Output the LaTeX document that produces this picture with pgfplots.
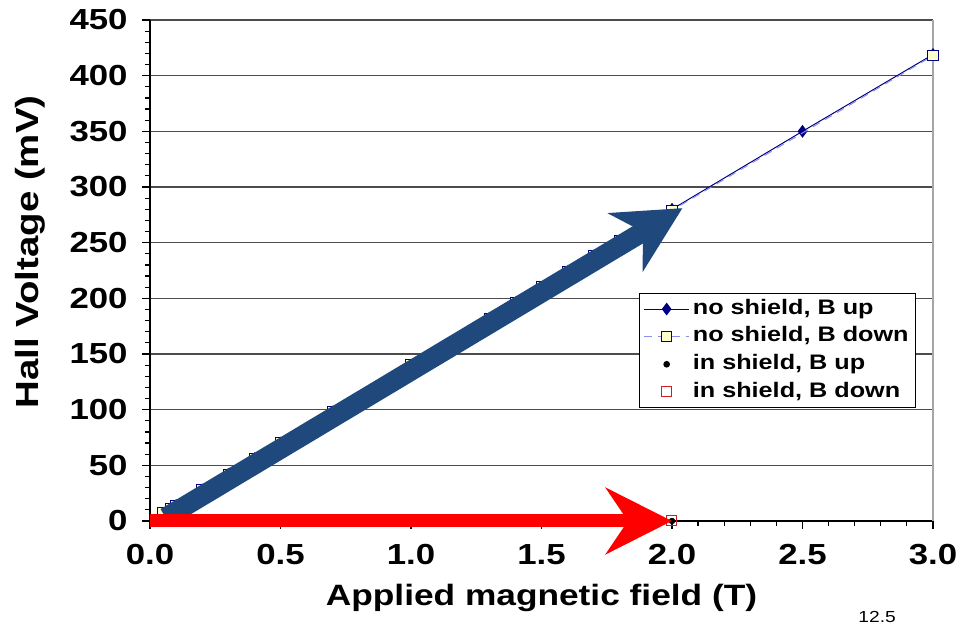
\documentclass[border=0pt]{standalone}
\usepackage{fontspec}
\setmainfont{Liberation Sans}[FakeStretch=1.2]
\usepackage{pgfplots}
\pgfplotsset{compat=1.18}
\usetikzlibrary{arrows.meta}

\definecolor{navyc}{RGB}{0,0,128}
\definecolor{lav}{RGB}{140,140,235}
\definecolor{ltyellow}{RGB}{255,255,204}
\definecolor{redsq}{RGB}{205,30,40}
\definecolor{arrowblue}{RGB}{31,73,125}

\begin{document}
\begin{tikzpicture}
\begin{axis}[
  scale only axis,
  width=391.5pt, height=250.5pt,
  xmin=0, xmax=3, ymin=0, ymax=450,
  clip=false, clip marker paths=true,
  axis x line=bottom, axis y line=left,
  axis line style={-, black, line width=0.7pt},
  xtick={0,0.5,...,3}, minor x tick num=4,
  ytick={0,50,...,450}, minor y tick num=4,
  tick align=outside,
  major tick length=4pt, minor tick length=2.6pt,
  tick style={black, line width=0.6pt},
  ymajorgrids,
  major grid style={black!70, line width=0.6pt},
  /pgf/number format/assume math mode=true,
  ticklabel style={font=\fontsize{14.5}{17}\selectfont\bfseries},
  xticklabel style={/pgf/number format/fixed,
      /pgf/number format/fixed zerofill,
      /pgf/number format/precision=1,
      anchor=base, yshift=-18pt},
  yticklabel style={anchor=east, inner sep=0pt, xshift=-7pt},
  xlabel={Applied magnetic field (T)},
  ylabel={Hall Voltage (mV)},
  xlabel style={font=\fontsize{14.7}{18}\selectfont\bfseries,
                at={([yshift=-42.5pt]axis cs:1.5,0)}, anchor=base},
  ylabel style={font=\fontsize{16}{19}\selectfont\bfseries,
                at={([xshift=-60pt]axis cs:0,241.6)}, anchor=center},
  legend cell align=left,
  legend image code/.code={\draw[mark repeat=2,mark phase=2,#1]
      plot coordinates {(0cm,0cm) (0.4cm,0cm) (0.8cm,0cm)};},
  legend style={at={(axis cs:2.935,205)}, anchor=north east,
      draw=black, line width=0.5pt, fill=white,
      font=\fontsize{10.5}{12}\selectfont\bfseries,
      inner xsep=2pt, inner ysep=1pt, row sep=0pt,
      nodes={inner sep=1.5pt, text height=8pt, text depth=2.8pt}},
]
% outer border on the right
\draw[black!35, line width=0.8pt] (axis cs:3,0) -- (axis cs:3,450);

% no shield, field up
\addplot[color=navyc, line width=0.5pt, mark=diamond*, mark size=2.8pt,
  mark options={solid, fill=navyc, draw=navyc}] coordinates {
  (0.05,7) (0.1,14) (0.2,28) (0.3,42) (0.4,56) (0.5,70) (0.7,98)
  (1.0,140) (1.3,182) (1.4,196) (1.5,210) (1.6,224) (1.7,238)
  (1.8,252) (1.9,266) (2.0,280) (2.5,350) (3.0,419)};
\addlegendentry{no shield, B up}

% no shield, field down
\addplot[color=lav, line width=0.5pt, dash pattern=on 4pt off 3pt,
  mark=square*, mark size=2.6pt,
  mark options={solid, fill=ltyellow, draw=navyc, line width=0.5pt}] coordinates {
  (0.05,7) (0.08,11) (0.1,14) (0.2,28) (0.3,42) (0.4,56) (0.5,70) (0.7,98)
  (1.0,140) (1.3,182) (1.4,196) (1.5,210) (1.6,224) (1.7,238)
  (1.8,252) (1.9,266) (2.0,279) (3.0,418)};
\addlegendentry{no shield, B down}

% in shield, field up
\addplot[only marks, mark=*, mark size=1.4pt, black] coordinates {
  (0.05,0) (0.1,0) (0.2,0) (0.3,0) (0.4,0) (0.5,0) (0.7,0)
  (1.0,0) (1.3,0) (1.5,0) (1.7,0) (1.9,0) (2.0,0)};
\addlegendentry{in shield, B up}

% in shield, field down
\addplot[only marks, mark=square, mark size=2.5pt, redsq,
  mark options={line width=0.5pt}] coordinates {
  (0.05,0) (0.1,0) (0.2,0) (0.3,0) (0.4,0) (0.5,0) (0.7,0)
  (1.0,0) (1.3,0) (1.5,0) (1.7,0) (1.9,0) (2.0,0)};
\addlegendentry{in shield, B down}

% highlight arrows, drawn last so they sit above the data
\addplot[forget plot, no marks, arrowblue, line width=10pt,
  -{Stealth[length=33pt, width=33.5pt, inset=10pt]}]
  coordinates {(0.06,3) (2.04,281)};
\addplot[forget plot, no marks, red, line width=6.5pt,
  -{Stealth[length=33pt, width=33pt, inset=11pt]}]
  coordinates {(0,0) (2.0,0)};
\end{axis}
\node[anchor=south west, inner sep=0pt, font=\fontsize{8}{9}\selectfont]
  at (354pt,-51pt) {12.5};
% page frame
\pgfresetboundingbox
\path[use as bounding box] (-75pt,-51.5pt) rectangle (405pt,260.5pt);
\end{tikzpicture}
\end{document}
